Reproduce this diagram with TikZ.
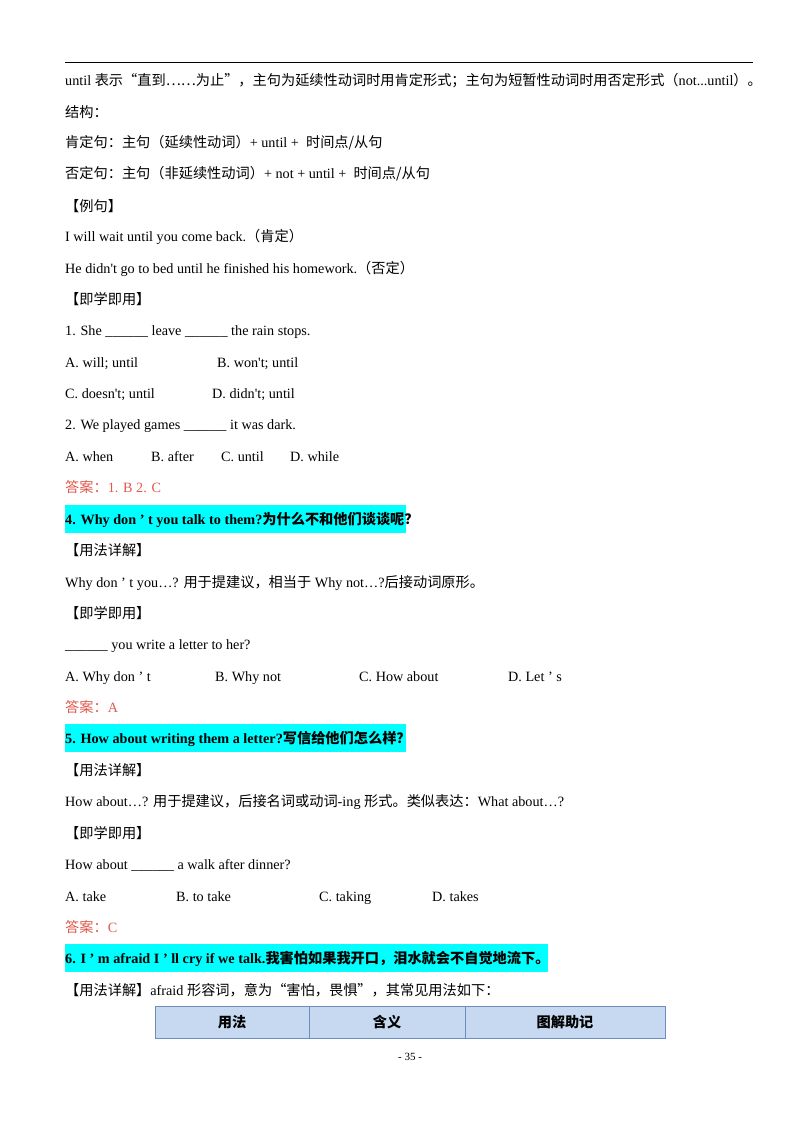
\documentclass[tikz,border=0pt]{standalone}
\usepackage{fontspec}
\setmainfont{Liberation Serif}[Ligatures=TeXOff]
\newfontfamily\zh{Noto Sans CJK SC}
\definecolor{ansred}{HTML}{E05A4E}
\definecolor{hilite}{HTML}{00FFFF}
\definecolor{headblue}{HTML}{C6D9F1}
\definecolor{headline}{HTML}{6C8EBF}
\tikzset{
  ln/.style={anchor=base west, inner sep=0pt, font=\fontsize{14.2}{17}\selectfont},
  ans/.style={ln, text=ansred},
  hd/.style={ln, font=\fontsize{14.2}{17}\selectfont\bfseries},
  cell/.style={font=\fontsize{14.2}{17}\selectfont\bfseries}
}
\begin{document}
\begin{tikzpicture}[x=1pt, y=-1pt]
	\useasboundingbox[fill=white] (0,0) rectangle (800,1132);
	% top rule
	\draw[line width=0.8pt] (65,62) -- (753,62);
	% until
	\node[ln] (l1) at (65,85) {until {\zh 表示“直到……为止”，主句为延续性动词时用肯定形式；主句为短暂性动词时用否定形式（}not...until{\zh ）。}};
	\node[ln] (l2) at (65,117) {\zh 结构：};
	\node[ln] (l3) at (65,147) {{\zh 肯定句：主句（延续性动词）}+ until +\ \ {\zh 时间点/从句}};
	\node[ln] (l4) at (65,178) {{\zh 否定句：主句（非延续性动词）}+ not + until +\ \ {\zh 时间点/从句}};
	\node[ln] (l5) at (65,211) {\zh 【例句】};
	\node[ln] (l6) at (65,241) {I will wait until you come back.{\zh （肯定）}};
	\node[ln] (l7) at (65,273) {He didn't go to bed until he finished his homework.{\zh （否定）}};
	\node[ln] (l8) at (65,304) {\zh 【即学即用】};
	\node[ln] (q1) at (65,335) {1. She \_\_\_\_\_\_ leave \_\_\_\_\_\_ the rain stops.};
	\node[ln] (q1a) at (65,367) {A. will; until};
	\node[ln] (q1b) at (217,367) {B. won't; until};
	\node[ln] (q1c) at (65,398) {C. doesn't; until};
	\node[ln] (q1d) at (212,398) {D. didn't; until};
	\node[ln] (q2) at (65,429) {2. We played games \_\_\_\_\_\_ it was dark.};
	\node[ln] (q2a) at (65,461) {A. when};
	\node[ln] (q2b) at (151,461) {B. after};
	\node[ln] (q2c) at (221,461) {C. until};
	\node[ln] (q2d) at (290,461) {D. while};
	\node[ans] (a1) at (65,492) {{\zh 答案：}1. B 2. C};
	% point 4
	\fill[hilite] (65,505) rectangle (406,533);
	\node[hd] (h4) at (65,524) {4. Why don ’ t you talk to them?{\zh\bfseries 为什么不和他们谈谈呢？}};
	\node[ln] (u4) at (65,555) {\zh 【用法详解】};
	\node[ln] (e4) at (65,587) {Why don ’ t you…? {\zh 用于提建议，相当于} Why not…?{\zh 后接动词原形。}};
	\node[ln] (p4) at (65,618) {\zh 【即学即用】};
	\node[ln] (q4) at (65,649) {\_\_\_\_\_\_ you write a letter to her?};
	\node[ln] (q4a) at (65,681) {A. Why don ’ t};
	\node[ln] (q4b) at (215,681) {B. Why not};
	\node[ln] (q4c) at (359,681) {C. How about};
	\node[ln] (q4d) at (508,681) {D. Let ’ s};
	\node[ans] (a4) at (65,712) {{\zh 答案：}A};
	% point 5
	\fill[hilite] (65,724) rectangle (406,752);
	\node[hd] (h5) at (65,743) {5. How about writing them a letter?{\zh\bfseries 写信给他们怎么样？}};
	\node[ln] (u5) at (65,775) {\zh 【用法详解】};
	\node[ln] (e5) at (65,806) {How about…? {\zh 用于提建议，后接名词或动词}-ing {\zh 形式。类似表达：}What about…?};
	\node[ln] (p5) at (65,838) {\zh 【即学即用】};
	\node[ln] (q5) at (65,869) {How about \_\_\_\_\_\_ a walk after dinner?};
	\node[ln] (q5a) at (65,901) {A. take};
	\node[ln] (q5b) at (176,901) {B. to take};
	\node[ln] (q5c) at (319,901) {C. taking};
	\node[ln] (q5d) at (432,901) {D. takes};
	\node[ans] (a5) at (65,932) {{\zh 答案：}C};
	% point 6
	\fill[hilite] (65,944) rectangle (548,972);
	\node[hd] (h6) at (65,963) {6. I ’ m afraid I ’ ll cry if we talk.{\zh\bfseries 我害怕如果我开口，泪水就会不自觉地流下。}};
	\node[ln] (u6) at (65,995) {{\zh 【用法详解】}afraid {\zh 形容词，意为“害怕，畏惧”，其常见用法如下：}};
	% table header
	\filldraw[fill=headblue, draw=headline, line width=0.8pt] (155,1006) rectangle (665,1038);
	\draw[headline, line width=0.8pt] (309,1006) -- (309,1038);
	\draw[headline, line width=0.8pt] (465,1006) -- (465,1038);
	\node[cell] (c1) at (232,1022) {\zh\bfseries 用法};
	\node[cell] (c2) at (387,1022) {\zh\bfseries 含义};
	\node[cell] (c3) at (565,1022) {\zh\bfseries 图解助记};
	% page number
	\node[font=\fontsize{11}{13}\selectfont] (pg) at (410,1057) {- 35 -};
\end{tikzpicture}
\end{document}
